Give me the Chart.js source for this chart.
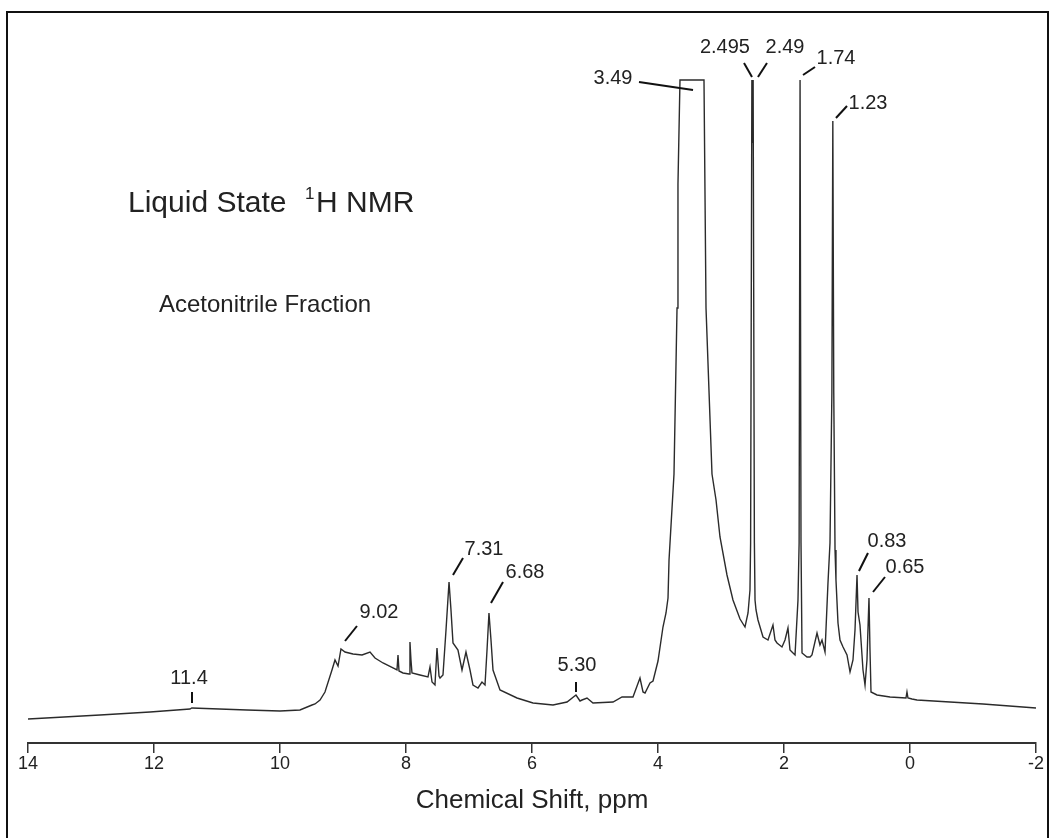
<!DOCTYPE html>
<html>
<head>
<meta charset="utf-8">
<script src="https://cdn.jsdelivr.net/npm/chart.js@4/dist/chart.umd.min.js"></script>
<style>
  html, body { margin: 0; padding: 0; background: #fff; }
  #wrap { position: relative; width: 1050px; height: 838px; overflow: hidden; }
  #frame { position: absolute; left: 6px; top: 11px; width: 1043px; height: 840px; border: 2px solid #111; box-sizing: border-box; pointer-events: none; }
</style>
</head>
<body>
<div id="wrap">
  <canvas id="c" width="1050" height="838"></canvas>
  <div id="frame"></div>
</div>
<script>
// ---- Data ----
const shiftPpm = [
  14.00, 12.857, 12.063, 11.429, 11.40, 10.524, 10.00, 9.683, 9.492, 9.444, 9.365, 9.286,
  9.175, 9.127, 9.079, 9.032, 8.968, 8.841, 8.698, 8.571, 8.492, 8.365, 8.143, 8.127, 8.111,
  8.048, 7.952, 7.937, 7.921, 7.905, 7.778, 7.651, 7.619, 7.587, 7.540, 7.508, 7.476, 7.460,
  7.413, 7.365, 7.317, 7.286, 7.254, 7.175, 7.111, 7.048, 6.984, 6.937, 6.857, 6.794, 6.746,
  6.714, 6.683, 6.651, 6.619, 6.508, 6.238, 5.984, 5.667, 5.444, 5.302, 5.238, 5.206, 5.127,
  5.032, 4.714, 4.571, 4.397, 4.286, 4.238, 4.206, 4.127, 4.079, 4.000, 3.921, 3.873, 3.841,
  3.825, 3.746, 3.698, 3.683, 3.651, 3.270, 3.238, 3.143, 3.079, 3.016, 2.905, 2.810, 2.698,
  2.619, 2.571, 2.540, 2.530, 2.510, 2.500, 2.490, 2.470, 2.460, 2.444, 2.413, 2.333, 2.254,
  2.175, 2.143, 2.111, 2.032, 1.984, 1.937, 1.905, 1.873, 1.825, 1.778, 1.760, 1.745, 1.730,
  1.714, 1.635, 1.587, 1.556, 1.476, 1.429, 1.397, 1.349, 1.302, 1.270, 1.240, 1.225, 1.210,
  1.190, 1.175, 1.143, 1.111, 1.063, 1.000, 0.952, 0.905, 0.873, 0.841, 0.825, 0.794, 0.746,
  0.714, 0.683, 0.651, 0.635, 0.619, 0.524, 0.317, 0.064, 0.048, 0.032, -0.032, -0.111,
  -0.635, -1.159, -2.000
];
const intensity = [
  24, 28, 31, 34, 35, 33, 32, 33, 38, 39, 43, 51,
  73, 83, 77, 94, 91, 89, 88, 91, 85, 80, 73, 88, 72,
  70, 69, 101, 83, 70, 68, 66, 76, 61, 58, 95, 67, 65,
  68, 113, 161, 133, 100, 93, 73, 91, 73, 58, 55, 61, 58,
  93, 130, 103, 73, 53, 45, 40, 38, 41, 48, 42, 43, 45,
  40, 41, 46, 46, 65, 51, 50, 60, 62, 82, 116, 130, 145,
  183, 269, 435, 559, 663, 663, 435, 269, 243, 206, 168, 143, 124,
  116, 130, 153, 200, 663, 600, 663, 200, 143, 133, 123, 106, 103,
  118, 103, 100, 96, 103, 115, 93, 91, 88, 143, 200, 663, 200,
  90, 86, 86, 88, 110, 98, 103, 91, 160, 200, 350, 622, 350,
  193, 163, 120, 103, 96, 88, 71, 83, 113, 168, 131, 118, 73,
  58, 83, 145, 93, 51, 48, 46, 45, 51, 45, 44, 43,
  41, 39, 35
];

// axis ticks
const xTicks = [14, 12, 10, 8, 6, 4, 2, 0, -2];

// peak annotations: text, text position (ppm, intensity), leader line from/to (ppm, intensity)
const peakLabels  = ['3.49', '2.495', '2.49', '1.74', '1.23', '0.83', '0.65', '7.31', '6.68', '9.02', '5.30', '11.4'];
const labelPpm    = [4.714, 2.937, 1.984, 1.175, 0.667, 0.365, 0.079, 6.762, 6.111, 8.429, 5.286, 11.444];
const labelVal    = [665, 696, 696, 685, 640, 202, 176, 194, 171, 131, 78, 65];
const leadFromPpm = [4.302, 2.635, 2.270, 1.508, 1.000, 0.667, 0.397, 7.095, 6.460, 8.778, 5.302, 11.397];
const leadFromVal = [661, 680, 680, 676, 637, 190, 166, 185, 161, 117, 61, 51];
const leadToPpm   = [3.444, 2.508, 2.413, 1.698, 1.175, 0.810, 0.587, 7.254, 6.651, 8.968, 5.302, 11.397];
const leadToVal   = [653, 666, 666, 668, 625, 172, 151, 168, 140, 102, 51, 40];

const points = shiftPpm.map((p, i) => ({ x: p, y: intensity[i] }));

const FONT = '"Liberation Sans", Arial, Helvetica, sans-serif';
const INK = '#222';

const annotate = {
  id: 'annotate',
  afterDatasetsDraw(chart) {
    const { ctx, scales: { x, y } } = chart;
    ctx.save();
    // leader lines
    ctx.strokeStyle = '#111';
    ctx.lineWidth = 2;
    for (let i = 0; i < peakLabels.length; i++) {
      ctx.beginPath();
      ctx.moveTo(x.getPixelForValue(leadFromPpm[i]), y.getPixelForValue(leadFromVal[i]));
      ctx.lineTo(x.getPixelForValue(leadToPpm[i]), y.getPixelForValue(leadToVal[i]));
      ctx.stroke();
    }
    // label texts
    ctx.fillStyle = INK;
    ctx.font = '20px ' + FONT;
    ctx.textAlign = 'center';
    ctx.textBaseline = 'middle';
    for (let i = 0; i < peakLabels.length; i++) {
      ctx.fillText(peakLabels[i], x.getPixelForValue(labelPpm[i]), y.getPixelForValue(labelVal[i]));
    }
    // titles inside the plot
    ctx.textAlign = 'left';
    ctx.textBaseline = 'alphabetic';
    ctx.font = '30px ' + FONT;
    ctx.fillText('Liquid State', 128, 212);
    ctx.font = '17px ' + FONT;
    ctx.fillText('1', 305, 199);
    ctx.font = '30px ' + FONT;
    ctx.fillText('H NMR', 316, 212);
    ctx.font = '24px ' + FONT;
    ctx.fillText('Acetonitrile Fraction', 159, 312);
    ctx.restore();
  }
};

new Chart(document.getElementById('c'), {
  type: 'line',
  data: {
    datasets: [{
      data: points,
      borderColor: '#2b2b2b',
      borderWidth: 1.4,
      pointRadius: 0,
      tension: 0,
      fill: false
    }]
  },
  options: {
    responsive: false,
    animation: false,
    devicePixelRatio: 1,
    layout: { padding: { left: 28, right: 14, top: 63, bottom: 22 } },
    plugins: { legend: { display: false }, tooltip: { enabled: false } },
    scales: {
      x: {
        type: 'linear',
        reverse: true,
        min: -2,
        max: 14,
        afterBuildTicks: (s) => { s.ticks = xTicks.map(v => ({ value: v })); },
        afterFit: (s) => { s.height = 73; },
        ticks: {
          color: INK,
          font: { family: FONT, size: 18 },
          padding: 0,
          maxRotation: 0,
          autoSkip: false,
          callback: (v) => String(v)
        },
        grid: { drawOnChartArea: false, drawTicks: true, tickLength: 10, color: '#333', lineWidth: 1.5 },
        border: { display: true, color: '#333', width: 2 },
        title: {
          display: true,
          text: 'Chemical Shift, ppm',
          color: INK,
          font: { family: FONT, size: 26 },
          padding: { top: 2, bottom: 0 }
        }
      },
      y: {
        type: 'linear',
        display: false,
        min: 0,
        max: 680
      }
    }
  },
  plugins: [annotate]
});
</script>
</body>
</html>
